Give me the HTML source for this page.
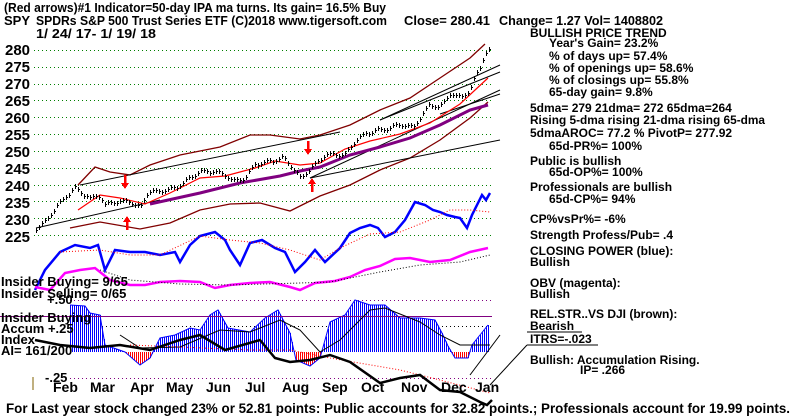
<!DOCTYPE html>
<html><head><meta charset="utf-8"><style>
html,body{margin:0;padding:0;background:#fff;}
svg{display:block;font-family:"Liberation Sans",sans-serif;font-weight:bold;}
</style></head><body>
<svg id="s" width="800" height="417" viewBox="0 0 800 417" xmlns="http://www.w3.org/2000/svg">
<g font-size="13" fill="#000">
<text x="4" y="12" textLength="382" lengthAdjust="spacingAndGlyphs">(Red arrows)#1 Indicator=50-day IPA ma turns. Its gain= 16.5% Buy</text>
<text x="4" y="25">SPY</text>
<text x="36" y="25" textLength="351" lengthAdjust="spacingAndGlyphs">SPDRs S&amp;P 500 Trust Series ETF  (C)2018 www.tigersoft.com</text>
<text x="404" y="25" textLength="86" lengthAdjust="spacingAndGlyphs">Close=  280.41</text>
<text x="499" y="25" textLength="164" lengthAdjust="spacingAndGlyphs">Change= 1.27 Vol= 1408802</text>
<text x="36" y="38" textLength="120" lengthAdjust="spacingAndGlyphs">1/ 24/ 17- 1/ 19/ 18</text>
</g>
<g font-size="12" fill="#000">
<text x="530" y="37">BULLISH PRICE TREND</text>
<text x="549" y="47">Year's Gain= 23.2%</text>
<text x="549" y="60">% of days up= 57.4%</text>
<text x="549" y="72">% of openings up= 58.6%</text>
<text x="549" y="84">% of closings up= 55.8%</text>
<text x="549" y="96">65-day gain= 9.8%</text>
<text x="530" y="112">5dma= 279 21dma= 272 65dma=264</text>
<text x="530" y="124" textLength="235" lengthAdjust="spacingAndGlyphs">Rising 5-dma rising 21-dma rising 65-dma</text>
<text x="530" y="137">5dmaAROC= 77.2 %  PivotP= 277.92</text>
<text x="549" y="150">65d-PR%= 100%</text>
<text x="530" y="165">Public is bullish</text>
<text x="549" y="176">65d-OP%= 100%</text>
<text x="530" y="191">Professionals are bullish</text>
<text x="549" y="203">65d-CP%= 94%</text>
<text x="530" y="223">CP%vsPr%= -6%</text>
<text x="530" y="239">Strength Profess/Pub= .4</text>
<text x="530" y="255">CLOSING POWER (blue):</text>
<text x="530" y="266">Bullish</text>
<text x="530" y="287">OBV (magenta):</text>
<text x="530" y="298">Bullish</text>
<text x="530" y="318">REL.STR..VS DJI (brown):</text>
<text x="530" y="330">Bearish</text>
<text x="530" y="343">ITRS=-.023</text>
<text x="530" y="364">Bullish: Accumulation Rising.</text>
<text x="580" y="374">IP=  .266</text>
</g>
<line x1="527" y1="332" x2="582" y2="332" stroke="#000"/>
<line x1="527" y1="345" x2="598" y2="345" stroke="#000"/>
<line x1="527" y1="345" x2="490" y2="385" stroke="#000"/>
<g font-size="15" fill="#000">
<text x="5" y="55">280</text><text x="5" y="72">275</text><text x="5" y="89">270</text>
<text x="5" y="106">265</text><text x="5" y="123">260</text><text x="5" y="140">255</text>
<text x="5" y="157">250</text><text x="5" y="174">245</text><text x="5" y="191">240</text>
<text x="5" y="208">235</text><text x="5" y="225">230</text><text x="5" y="242">225</text>
</g>
<g id="grid" stroke="#008000" stroke-dasharray="1,3"></g>
<g id="plot" shape-rendering="crispEdges"></g>
<g font-size="13" fill="#000">
<text x="1" y="286">Insider Buying= 9/65</text>
<text x="1" y="298">Insider Selling= 0/65</text>
<text x="47" y="304">+.50</text>
<text x="1" y="322">Insider Buying</text>
<text x="1" y="333">Accum  +.25</text>
<text x="1" y="344">Index</text>
<text x="1" y="355">AI= 161/200</text>
<text x="45" y="382">-.25</text>
</g>
<g font-size="14" fill="#000">
<text x="53" y="392">Feb</text><text x="90" y="392">Mar</text><text x="130" y="392">Apr</text>
<text x="166" y="392">May</text><text x="206" y="392">Jun</text><text x="245" y="392">Jul</text>
<text x="282" y="392">Aug</text><text x="322" y="392">Sep</text><text x="361" y="392">Oct</text>
<text x="401" y="392">Nov</text><text x="441" y="392">Dec</text><text x="475" y="392">Jan</text>
</g>
<line x1="33" y1="377" x2="33" y2="390" stroke="#806000"/>
<text x="6" y="413" font-size="13.5" textLength="784" lengthAdjust="spacingAndGlyphs">For Last year stock changed  23% or  52.81 points:  Public accounts for  32.82 points.;  Professionals account for  19.99 points.</text>
</svg>
<script>
var NS="http://www.w3.org/2000/svg",P=document.getElementById('plot'),G=document.getElementById('grid');
function el(t,a,par){var e=document.createElementNS(NS,t);for(var k in a)e.setAttribute(k,a[k]);(par||P).appendChild(e);return e;}
for(var i=0;i<12;i++){var y=Math.round(50+i*16.82)+0.5;el('line',{x1:34,x2:492,y1:y,y2:y},G);}
[[300,'#800080'],[326,'#000'],[378,'#800080']].forEach(function(d){el('line',{x1:70,x2:492,y1:d[0]+0.5,y2:d[0]+0.5,stroke:d[1],'stroke-dasharray':'1,3'});});
function py(p){return 50+(280-p)*3.364;}
function interp(pts,x){for(var i=0;i<pts.length-1;i++){if(x>=pts[i][0]&&x<=pts[i+1][0]){var t=(x-pts[i][0])/(pts[i+1][0]-pts[i][0]);return pts[i][1]+t*(pts[i+1][1]-pts[i][1]);}}return pts[x<pts[0][0]?0:pts.length-1][1];}
function line(pts,c,w,dash){el('polyline',{points:pts.map(function(p){return p.join(',')}).join(' '),fill:'none',stroke:c,'stroke-width':w,'stroke-dasharray':dash||'','shape-rendering':'auto'});}
var bandU=[[78,185],[95,167],[110,172],[130,175],[150,165],[180,155],[220,147],[250,135],[270,135],[300,139],[320,135],[350,125],[380,110],[410,98],[440,78],[470,58],[485,44]];
var bandL=[[70,228],[100,222],[140,229],[170,223],[200,210],[230,204],[260,203],[290,211],[320,196],[350,185],[380,170],[410,158],[440,140],[470,118],[488,102]];
line(bandU,'#800000',1.3);line(bandL,'#800000',1.3);
line([[36,228],[160,200]],'#000',1);line([[80,185],[340,132]],'#000',1);line([[310,178],[500,140]],'#000',1);
line([[310,178],[500,90]],'#000',1);line([[380,120],[500,72]],'#000',1);line([[380,120],[500,65]],'#000',1);
line([[440,114],[500,94]],'#000',1);
line([[78,210],[100,195],[120,198],[145,204],[170,193],[200,178],[225,176],[255,168],[275,161],[300,165],[320,163],[345,149],[370,141],[400,134],[430,123],[460,104],[488,78]],'#f00',1.2);
line([[150,204],[200,193],[240,183],[280,176],[300,171],[320,167],[350,155],[380,147],[410,138],[440,125],[470,110],[488,105]],'#800080',3);
var price=[[36,227],[45,229],[55,233],[64,236],[75,239],[80,238],[90,236],[100,237],[105,234],[115,235],[130,235],[140,233],[148,238],[160,238],[175,239],[190,242],[200,244],[215,244],[225,243],[235,241],[245,242],[255,246],[270,247],[283,248],[290,246],[300,242],[308,244],[315,246],[325,249],[335,249],[345,249],[355,253],[365,255],[375,256],[390,257],[400,258],[413,257],[420,260],[430,264],[440,263],[450,267],[460,266],[470,268],[475,272],[480,275],[485,279],[490,280]];
for(var x=36;x<=490;x+=3){var p=interp(price,x)+Math.sin(x*1.7)*0.5;var y=Math.round(py(p));el('line',{x1:x+0.5,x2:x+0.5,y1:y-2,y2:y+3,stroke:'#000','stroke-width':1});el('line',{x1:x,x2:x+2,y1:y+0.5,y2:y+0.5,stroke:'#000'});}
function arrow(x,y,down){var d=down?1:-1;el('polygon',{points:(x-4)+','+(y)+' '+(x+4)+','+y+' '+x+','+(y+6*d),fill:'#f00'});el('line',{x1:x,x2:x,y1:y-8*d,y2:y,stroke:'#f00','stroke-width':2.5});}
arrow(125,183,1);arrow(308,149,1);arrow(127,222,0);arrow(312,184,0);
line([[35,290],[45,270],[60,252],[75,245],[90,248],[98,245],[105,270],[115,250],[130,252],[145,252],[160,255],[175,252],[180,262],[190,245],[200,236],[215,232],[225,240],[230,250],[240,265],[250,243],[262,240],[275,248],[285,252],[295,272],[305,262],[315,250],[325,262],[340,248],[350,233],[360,228],[370,225],[378,228],[385,237],[395,232],[405,220],[415,202],[425,205],[433,210],[440,212],[447,215],[455,217],[460,218],[467,228],[472,215],[478,203],[482,195],[486,200],[490,193]],'#0000ff',2.5);
line([[60,252],[100,250],[130,255],[160,255],[200,236],[230,240],[260,243],[290,250],[320,260],[340,248],[370,234],[400,232],[430,220],[450,210],[470,210],[490,212]],'#f00',1,'1,2');
line([[35,287],[50,290],[65,273],[80,270],[95,268],[110,280],[130,285],[145,285],[160,282],[180,281],[200,282],[215,288],[230,285],[250,283],[270,282],[290,287],[300,290],[315,283],[335,281],[350,277],[365,270],[380,266],[395,259],[410,258],[430,262],[450,260],[470,252],[488,248]],'#ff00ff',2.5);
line([[100,270],[130,280],[180,284],[230,285],[300,283],[330,282],[380,272],[420,265],[460,262],[490,255]],'#000',1,'1,2');
var acc=[[70,305],[85,306],[90,313],[100,315],[105,345],[125,352],[140,365],[150,358],[160,338],[175,335],[190,328],[200,330],[210,315],[218,310],[228,328],[250,332],[265,318],[278,310],[290,333],[296,360],[310,366],[320,358],[330,322],[345,315],[355,300],[370,305],[385,305],[400,318],[420,318],[435,320],[442,333],[448,346],[455,358],[468,358],[472,345],[480,335],[488,325]];
for(var x=70;x<=489;x+=2){var v=interp(acc,x);el('line',{x1:x+0.5,x2:x+0.5,y1:352,y2:v,stroke:v<352?'#0000ff':'#f00','stroke-width':1});}
line(acc,'#0000ff',1);
el('line',{x1:0,x2:492,y1:316.5,y2:316.5,stroke:'#800080','stroke-width':1.3});
line([[120,335],[140,348],[180,347],[220,330],[250,332],[280,320],[300,330],[320,352],[340,340],[370,310],[385,308],[420,322],[440,335],[460,345],[490,345]],'#000',1);
line([[130,345],[180,347],[250,350],[290,350],[330,358],[400,370],[440,380],[490,393]],'#f00',1,'1,2');
line([[35,340],[60,345],[90,348],[120,345],[150,350],[180,340],[200,335],[225,350],[260,340],[275,358],[290,362],[310,360],[330,355],[350,362],[380,383],[400,378],[420,375],[440,390],[460,392],[480,402],[487,405],[492,400]],'#000',2.5);
line([[470,375],[500,335]],'#000',1);
</script>
</body></html>
